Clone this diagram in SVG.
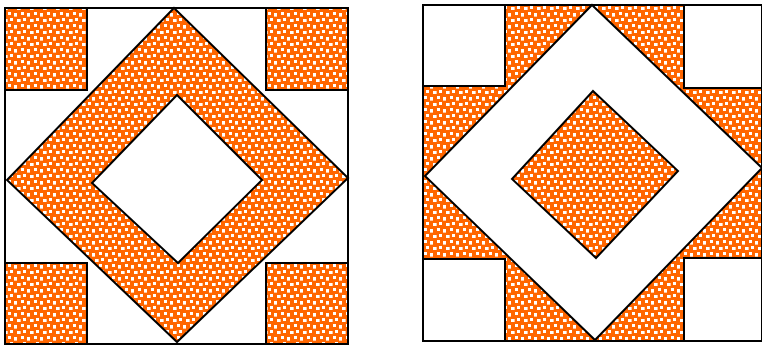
<svg xmlns="http://www.w3.org/2000/svg" width="762" height="346" viewBox="0 0 762 346">
<style>
.o{fill:url(#dots);stroke:#000;stroke-width:2;stroke-linejoin:miter}
.w{fill:#fff;stroke:#000;stroke-width:2;stroke-linejoin:miter}
</style>
<defs>
<pattern id="dots" patternUnits="userSpaceOnUse" width="13" height="12">
<rect width="13" height="12" fill="#ff6600"/>
<rect x="1" y="1" width="3" height="3" fill="#fff"/>
<rect x="8" y="0" width="3" height="3" fill="#fff"/>
<rect x="4" y="7" width="3" height="3" fill="#fff"/>
<rect x="10" y="6" width="3" height="3" fill="#fff"/>
<rect x="1" y="4" width="3" height="1" fill="#ffc8a0"/>
<rect x="7" y="7" width="1" height="3" fill="#ffc8a0"/>
</pattern>
</defs>
<g id="block-left">
<rect class="w" x="5" y="8" width="343" height="336"/>
<rect class="o" x="5" y="8" width="82" height="82"/>
<rect class="o" x="266" y="8" width="82" height="82"/>
<rect class="o" x="5" y="263" width="82" height="81"/>
<rect class="o" x="266" y="263" width="82" height="81"/>
<polygon class="o" points="174,8 348,178 177,342 7,180"/>
<polygon class="w" points="177,95 262,180 178,263 92,183"/>
</g>
<g id="block-right">
<rect class="o" x="423" y="5" width="339" height="336"/>
<rect class="w" x="423" y="5" width="82" height="81"/>
<rect class="w" x="684" y="5" width="78" height="83"/>
<rect class="w" x="423" y="259" width="82" height="82"/>
<rect class="w" x="684" y="258" width="78" height="83"/>
<polygon class="w" points="592,5 762,168 595,340 425,176"/>
<polygon class="o" points="593,91 678,171 596,258 512,179"/>
</g>
<g id="connectors"></g>
</svg>
